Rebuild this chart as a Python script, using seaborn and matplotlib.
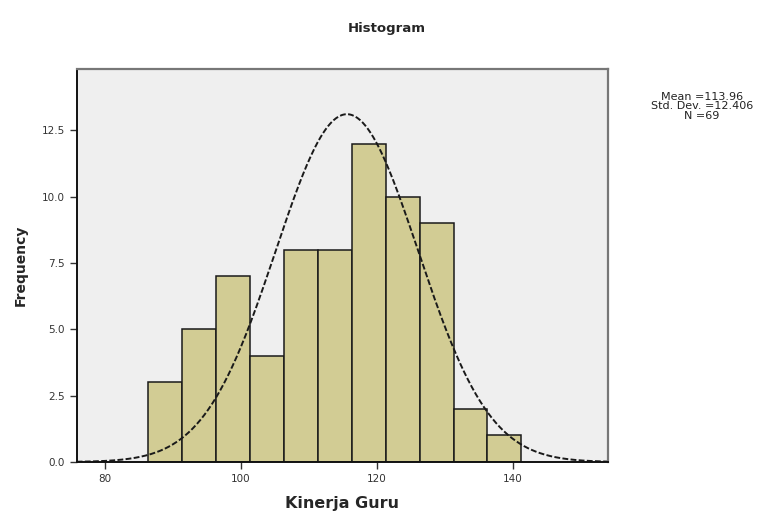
import numpy as np
import pandas as pd
import matplotlib
matplotlib.use("Agg")
import matplotlib.pyplot as plt
import seaborn as sns

# histogram of Kinerja Guru (bin width 5)
bin_start = 86.3
bin_width = 5
counts = [3, 5, 7, 4, 8, 8, 12, 10, 9, 2, 1]

# stats box as printed
stat_mean = "113.96"
stat_sd = "12.406"
stat_n = 69

# normal curve as drawn in the picture
curve_mean = 115.6
curve_sd = 10.5

x_ticks = [80, 100, 120, 140]
y_ticks = [0.0, 2.5, 5.0, 7.5, 10.0, 12.5]

sns.set_style("white")
plt.rcParams['font.family'] = ['DejaVu Sans']

edges = [bin_start + i * bin_width for i in range(len(counts) + 1)]
mids = [bin_start + (i + 0.5) * bin_width for i in range(len(counts))]
df = pd.DataFrame({"Kinerja Guru": mids, "n": counts})

fig = plt.figure(figsize=(7.66, 5.18), dpi=100)
ax = fig.add_axes([0.1001, 0.1081, 0.6932, 0.7581])
ax.set_facecolor("#efefef")

sns.histplot(data=df, x="Kinerja Guru", weights="n", bins=edges, ax=ax,
             color="#d2cc94", alpha=1.0, edgecolor="#1a1a1a", linewidth=1.1)

xs = np.linspace(75.8, 154, 400)
ys = stat_n * bin_width * np.exp(-0.5 * ((xs - curve_mean) / curve_sd) ** 2) / (curve_sd * np.sqrt(2 * np.pi))
sns.lineplot(x=xs, y=ys, ax=ax, color="#1a1a1a", linewidth=1.4, linestyle=(0, (3, 1.2)))

ax.set_xlim(75.8, 154)
ax.set_ylim(0, 14.8)
ax.set_xticks(x_ticks)
ax.set_xticklabels([str(t) for t in x_ticks])
ax.set_yticks(y_ticks)
ax.set_yticklabels([f"{t:.1f}" for t in y_ticks])
ax.tick_params(axis="both", labelsize=7.5, colors="#333333", length=5, width=1,
               direction="out", bottom=True, left=True)

for s in ["left", "bottom"]:
    ax.spines[s].set_color("#111111")
    ax.spines[s].set_linewidth(1.4)
for s in ["top", "right"]:
    ax.spines[s].set_color("#777777")
    ax.spines[s].set_linewidth(1.6)

ax.set_xlabel("Kinerja Guru", fontsize=11.5, fontweight="bold", labelpad=9)
ax.set_ylabel("Frequency", fontsize=10, fontweight="bold", labelpad=10)

fig.text(0.505, 0.945, "Histogram", ha="center", va="center", fontsize=9.5, fontweight="bold")
fig.text(0.916, 0.795, f"Mean ={stat_mean}\nStd. Dev. ={stat_sd}\nN ={stat_n}",
         ha="center", va="center", fontsize=8, linespacing=0.95, color="#222222")

plt.savefig("out.png", dpi=100)
plt.close()
